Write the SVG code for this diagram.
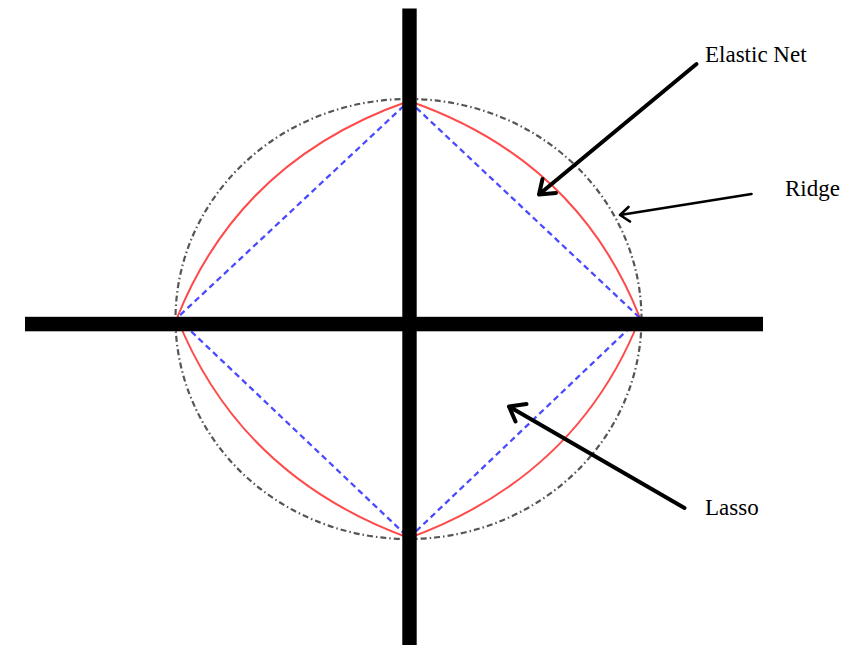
<svg xmlns="http://www.w3.org/2000/svg" width="866" height="645" viewBox="0 0 866 645">
<style>
.lbl{font-family:"Liberation Serif","Times New Roman",serif;font-size:23px;fill:#000}
.arr{fill:none;stroke:#000;stroke-linecap:round;stroke-linejoin:round}
</style>
<rect width="866" height="645" fill="#fff"/>
<g id="ridge-ellipse">
<ellipse cx="408.5" cy="319" rx="233" ry="220" fill="none" stroke="#555" stroke-width="2.2" stroke-dasharray="6 3 1.5 3"/>
</g>
<g id="elastic-net-shape">
<path d="M409,101 Q577.6,159.6 640,318 Q577.6,476.4 409,538 Q240.4,476.4 177,318 Q240.4,159.6 409,101 Z" fill="none" stroke="#ff4a4a" stroke-width="2"/>
</g>
<g id="lasso-shape">
<path d="M409,101 L640,318 L409,538 L177,318 Z" fill="none" stroke="#4a4aff" stroke-width="2.3" stroke-dasharray="6 4"/>
</g>
<g id="axes">
<rect x="402.3" y="8.5" width="14.4" height="637" fill="#000"/>
<rect x="25" y="316.8" width="738" height="14.5" fill="#000"/>
</g>
<g id="connectors">
<path class="arr" stroke-width="4" d="M696.5,64 L539,194.5 M542.5,179 L539,194.5 L556,193"/>
<path class="arr" stroke-width="2.6" d="M751.5,194 L620,215 M628.5,207 L620,215 L630,221.5"/>
<path class="arr" stroke-width="4" d="M684.5,508 L509,406.5 M526.5,404 L509,406.5 L515.5,421.5"/>
</g>
<g id="label-elastic-net"><text class="lbl" x="705" y="62">Elastic Net</text></g>
<g id="label-ridge"><text class="lbl" x="785" y="196">Ridge</text></g>
<g id="label-lasso"><text class="lbl" x="705" y="515">Lasso</text></g>
</svg>
